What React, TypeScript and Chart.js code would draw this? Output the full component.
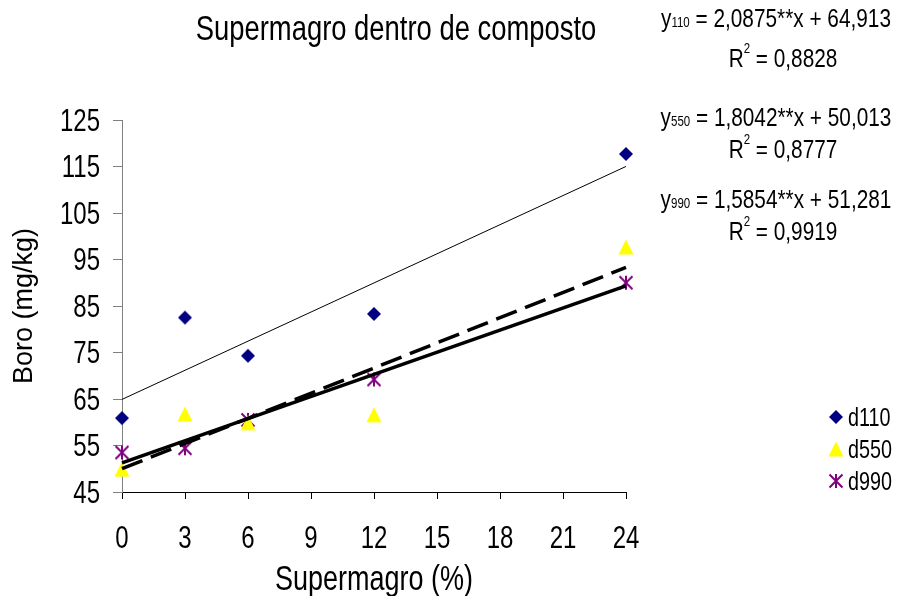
import React, { useEffect, useRef } from "react";
import { Chart, registerables } from "chart.js";

Chart.register(...registerables);

// Supermagro dose (%) applied inside the compost
const doses = [0, 3, 6, 12, 24];

// Boron content (mg/kg) for each composting depth group
const d110 = [60.9, 82.5, 74.3, 83.3, 117.7];
const d550 = [49.9, 61.8, 59.9, 61.6, 97.7];
const d990 = [53.5, 54.4, 60.5, 69.2, 90.0];

// Fitted linear regressions (y = a*x + b) and their R²
const seriesNames = ["d110", "d550", "d990"];
const eqSubscripts = ["110", "550", "990"];
const slopes = [2.0875, 1.8042, 1.5854];
const intercepts = [64.913, 50.013, 51.281];
const rSquared = [0.8828, 0.8777, 0.9919];

// Axis ranges and tick steps
const xTicks = { min: 0, max: 24, step: 3 };
const yTicks = { min: 45, max: 125, step: 10 };

const FONT = "'Liberation Sans', Arial, sans-serif";
const COLORS = ["#000080", "#FFFF00", "#800080"];
// the typeface is drawn slightly taller than its width
const STRETCH = 1.27;

function makeMarker(kind: string, color: string): HTMLCanvasElement {
  const c = document.createElement("canvas");
  const s = 18;
  c.width = s;
  c.height = s;
  const g = c.getContext("2d")!;
  const m = s / 2;
  if (kind === "diamond") {
    g.beginPath();
    g.moveTo(m, m - 7);
    g.lineTo(m + 7, m);
    g.lineTo(m, m + 7);
    g.lineTo(m - 7, m);
    g.closePath();
    g.fillStyle = color;
    g.fill();
  } else if (kind === "triangle") {
    g.beginPath();
    g.moveTo(m, m - 7.5);
    g.lineTo(m + 7.5, m + 7.5);
    g.lineTo(m - 7.5, m + 7.5);
    g.closePath();
    g.fillStyle = color;
    g.fill();
  } else {
    g.strokeStyle = color;
    g.lineWidth = 2;
    g.beginPath();
    g.moveTo(m, m - 7);
    g.lineTo(m, m + 7);
    g.moveTo(m - 6.5, m - 6.5);
    g.lineTo(m + 6.5, m + 6.5);
    g.moveTo(m + 6.5, m - 6.5);
    g.lineTo(m - 6.5, m + 6.5);
    g.stroke();
  }
  return c;
}

const fmt = (v: number, d: number) => v.toFixed(d).replace(".", ",");

// Draws text vertically stretched about its anchor point
function drawText(
  ctx: CanvasRenderingContext2D,
  text: string,
  x: number,
  y: number,
  size: number,
  align: CanvasTextAlign = "left",
  stretch = STRETCH
) {
  ctx.save();
  ctx.translate(x, y);
  ctx.scale(1, stretch);
  ctx.font = `${size}px ${FONT}`;
  ctx.textAlign = align;
  ctx.textBaseline = "alphabetic";
  // center the digit/cap height on the anchor
  ctx.fillText(text, 0, size * 0.36);
  ctx.restore();
}

function textWidth(ctx: CanvasRenderingContext2D, text: string, size: number) {
  ctx.font = `${size}px ${FONT}`;
  return ctx.measureText(text).width;
}

export default function App() {
  const ref = useRef<HTMLCanvasElement | null>(null);

  useEffect(() => {
    const canvas = ref.current;
    if (!canvas) return;

    const markers = [
      makeMarker("diamond", COLORS[0]),
      makeMarker("triangle", COLORS[1]),
      makeMarker("star", COLORS[2]),
    ];
    const values = [d110, d550, d990];

    const scatterSets = values.map((vals, i) => ({
      type: "scatter" as const,
      label: seriesNames[i],
      data: doses.map((x, k) => ({ x, y: vals[k] })),
      pointStyle: markers[i],
      pointRadius: 7,
      showLine: false,
      clip: false as const,
      order: 2,
    }));

    const trendStyles = [
      { borderWidth: 1, borderDash: [] as number[] },
      { borderWidth: 3.5, borderDash: [22, 9] },
      { borderWidth: 3.5, borderDash: [] as number[] },
    ];

    const trendSets = slopes.map((a, i) => ({
      type: "line" as const,
      label: "trend " + seriesNames[i],
      data: [xTicks.min, xTicks.max].map((x) => ({ x, y: a * x + intercepts[i] })),
      borderColor: "#000",
      borderWidth: trendStyles[i].borderWidth,
      borderDash: trendStyles[i].borderDash,
      pointRadius: 0,
      fill: false,
      clip: false as const,
      order: 1,
    }));

    const annotations = {
      id: "annotations",
      afterDraw(chart: any) {
        const ctx = chart.ctx as CanvasRenderingContext2D;
        ctx.save();
        ctx.fillStyle = "#000";

        // tick labels
        const xs = chart.scales.x;
        const ys = chart.scales.y;
        xs.ticks.forEach((t: any) => {
          drawText(ctx, String(t.value), xs.getPixelForValue(t.value), 537, 24, "center");
        });
        ys.ticks.forEach((t: any) => {
          drawText(ctx, String(t.value), 100, ys.getPixelForValue(t.value), 24, "right");
        });

        // chart title and x-axis title
        drawText(ctx, "Supermagro dentro de composto", 396, 27, 27.4, "center");
        drawText(ctx, "Supermagro (%)", 374, 578, 27, "center");

        // y-axis title
        ctx.save();
        ctx.translate(25, 306);
        ctx.rotate(-Math.PI / 2);
        ctx.font = `27px ${FONT}`;
        ctx.textAlign = "center";
        ctx.textBaseline = "middle";
        ctx.fillText("Boro (mg/kg)", 0, 0);
        ctx.restore();

        // regression equations
        const eqY = [17, 116, 198];
        const r2Y = [57, 148, 230];
        const big = 20.8;
        const small = 11.5;
        slopes.forEach((a, i) => {
          const rest = ` = ${fmt(a, 4)}**x + ${fmt(intercepts[i], 3)}`;
          const wY = textWidth(ctx, "y", big);
          const wSub = textWidth(ctx, eqSubscripts[i], small);
          const wRest = textWidth(ctx, rest, big);
          let x = 776 - (wY + wSub + wRest) / 2;
          drawText(ctx, "y", x, eqY[i], big);
          x += wY;
          drawText(ctx, eqSubscripts[i], x, eqY[i] + 5, small);
          x += wSub;
          drawText(ctx, rest, x, eqY[i], big);

          const r2rest = ` = ${fmt(rSquared[i], 4)}`;
          const wR = textWidth(ctx, "R", big);
          const wSup = textWidth(ctx, "2", small);
          const wR2 = textWidth(ctx, r2rest, big);
          let rx = 783 - (wR + wSup + wR2) / 2;
          drawText(ctx, "R", rx, r2Y[i], big);
          rx += wR;
          drawText(ctx, "2", rx, r2Y[i] - 9, small);
          rx += wSup;
          drawText(ctx, r2rest, rx, r2Y[i], big);
        });

        // legend
        const legY = [417, 449, 481];
        seriesNames.forEach((name, i) => {
          const mk = markers[i];
          ctx.drawImage(mk, 836 - mk.width / 2, legY[i] - mk.height / 2);
          drawText(ctx, name, 848, legY[i], 19.8);
        });

        ctx.restore();
      },
    };

    const chart = new Chart(canvas, {
      type: "scatter",
      data: { datasets: [...scatterSets, ...trendSets] as any },
      options: {
        responsive: false,
        animation: false,
        events: [],
        layout: { padding: { left: 0, right: 281, top: 120, bottom: 0 } },
        plugins: {
          legend: { display: false },
          tooltip: { enabled: false },
          title: { display: false },
        },
        scales: {
          x: {
            type: "linear",
            min: xTicks.min,
            max: xTicks.max,
            afterFit(scale: any) {
              scale.height = 104;
            },
            ticks: {
              stepSize: xTicks.step,
              display: false,
            },
            grid: {
              drawOnChartArea: false,
              drawTicks: true,
              tickLength: 7,
              color: "#000",
            },
            border: { display: true, color: "#000", width: 1 },
          },
          y: {
            type: "linear",
            min: yTicks.min,
            max: yTicks.max,
            afterFit(scale: any) {
              scale.width = 122;
            },
            ticks: {
              stepSize: yTicks.step,
              display: false,
            },
            grid: {
              drawOnChartArea: false,
              drawTicks: true,
              tickLength: 9,
              color: "#808080",
            },
            border: { display: true, color: "#808080", width: 1 },
          },
        },
      },
      plugins: [annotations],
    });

    return () => chart.destroy();
  }, []);

  return (
    <div style={{ position: "absolute", left: 0, top: 0, width: 907, height: 596, background: "#fff" }}>
      <canvas ref={ref} width={907} height={596} style={{ width: 907, height: 596, display: "block" }} />
    </div>
  );
}
